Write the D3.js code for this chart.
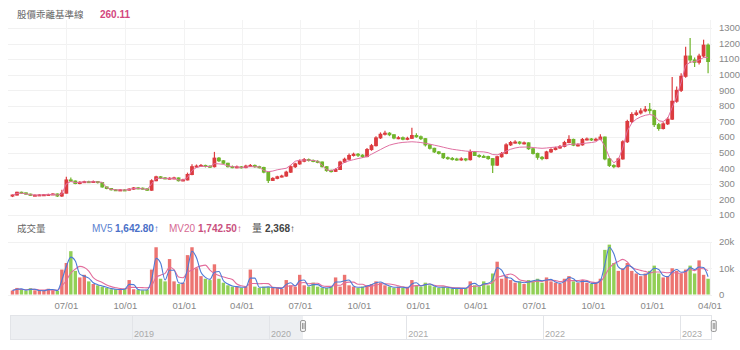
<!DOCTYPE html>
<html><head><meta charset="utf-8">
<script src="https://cdn.jsdelivr.net/npm/d3@7"></script>
<style>
body{margin:0;background:#fff;}
svg{display:block;font-family:"Liberation Sans",Arial,"Noto Sans CJK TC",sans-serif;}
</style></head>
<body><svg id="c" width="740" height="350"></svg>
<script>
// ---- data (weekly candles, Apr 2020 – Mar 2023) ----
const weekStarts = d3.timeMonday.range(new Date(2020,3,6), new Date(2023,3,1));
const openP = [222,228,246,242,234,226,227,229,230,232,
 235,222,240,325,318,302,310,314,313,315,
 308,280,270,262,259,261,260,266,274,272,
 268,259,320,345,338,336,336,338,320,325,
 360,410,414,418,413,410,465,448,432,410,
 409,409,404,414,418,410,405,375,322,335,
 345,350,375,410,428,445,456,450,444,440,
 410,385,380,392,440,458,482,490,484,475,
 520,545,595,618,625,615,594,596,586,592,
 610,602,590,550,528,505,495,468,463,459,
 456,460,455,505,482,476,475,462,420,474,
 495,550,565,568,560,563,525,495,470,462,
 505,520,530,540,565,585,548,550,585,588,
 582,586,600,460,418,410,460,570,700,745,
 755,768,778,770,680,655,685,715,830,900,
 990,1120,1095,1080,1120,1190];
const closeP = [228,246,242,234,226,227,229,230,232,235,
 222,240,325,318,302,310,314,313,315,308,
 280,270,262,259,261,260,266,274,272,268,
 259,320,345,338,336,336,338,320,325,360,
 410,414,418,413,410,465,448,432,410,409,
 409,404,414,418,410,405,375,322,335,345,
 350,375,410,428,445,456,450,444,440,410,
 385,380,392,440,458,482,490,484,475,520,
 545,595,618,625,615,594,596,586,592,610,
 602,590,550,528,505,495,468,463,459,456,
 460,455,505,482,476,475,462,420,474,495,
 550,565,568,560,563,525,495,470,462,505,
 520,530,540,565,585,548,550,585,588,582,
 586,600,460,418,410,460,570,700,745,755,
 768,778,770,680,655,685,715,830,900,990,
 1120,1095,1080,1120,1190,1085];
const highP = [232,250,250,245,237,231,233,234,236,240,
 238,262,345,340,322,316,320,319,322,318,
 310,283,273,266,266,266,272,279,279,276,
 271,330,352,350,344,342,346,341,332,372,
 425,424,428,423,420,505,472,452,435,418,
 417,414,422,428,424,416,410,378,342,352,
 358,384,420,436,456,466,462,456,452,444,
 414,392,400,448,468,494,500,498,490,530,
 556,605,630,640,632,618,606,604,602,660,
 625,610,594,556,532,510,498,476,472,468,
 470,466,520,510,490,486,480,466,480,505,
 560,575,580,574,572,566,530,500,478,512,
 528,538,550,576,612,590,560,594,598,594,
 596,618,604,465,425,468,580,712,760,772,
 785,800,818,775,690,695,728,985,925,1010,
 1180,1236,1110,1135,1225,1200];
const lowP = [215,225,238,230,222,222,224,225,227,229,
 216,215,238,312,298,298,305,308,308,302,
 275,265,258,254,255,255,257,262,266,264,
 254,256,316,332,330,330,330,315,316,322,
 355,402,408,405,402,405,440,425,405,400,
 400,398,400,408,404,398,368,305,318,330,
 340,345,370,402,422,438,444,438,432,405,
 378,372,376,388,434,452,475,472,466,470,
 512,540,588,610,606,586,586,580,580,588,
 595,582,540,520,498,488,460,455,450,448,
 448,445,450,478,468,466,455,370,415,468,
 490,542,558,552,552,518,488,455,452,458,
 498,515,525,534,560,542,540,545,578,575,
 576,580,452,408,400,405,455,562,690,735,
 745,760,750,665,640,648,678,710,820,890,
 980,1075,1050,1065,1110,1010];
const baseLine = [228,238,240,236,230,228,228,229,231,232,
 228,235,300,315,308,310,312,312,313,312,
 310,275,265,261,261,260,264,270,271,268,
 262,300,335,336,335,335,335,325,324,340,
 385,405,412,412,410,430,428,425,415,410,
 408,405,408,410,410,408,385,378,382,390,
 395,400,420,445,452,453,452,450,445,420,
 390,385,395,415,440,448,455,462,468,475,
 490,505,520,535,548,556,562,566,568,570,
 568,565,560,555,548,542,535,528,522,518,
 514,510,508,507,506,505,500,488,486,495,
 510,522,530,535,536,536,533,530,528,530,
 533,536,538,545,552,555,555,558,562,565,
 570,590,540,470,435,455,530,640,690,715,
 730,740,745,738,705,700,720,790,860,950,
 1060,1080,1085,1095,1110,1110];
const volume = [1500,2500,1800,1500,2400,1600,1400,1500,2200,1600,
 1400,9500,12000,16500,9000,6500,7500,5000,4000,3500,
 3000,2500,2000,2000,1800,2200,5500,2000,1800,1600,
 1800,9500,18000,6000,5000,13500,5000,4000,4500,15000,
 18000,10000,7000,6000,5500,11500,6000,4500,3500,3000,
 3000,2500,3000,9500,3000,2500,3000,2800,2500,2500,
 2200,5500,3500,3000,7500,3500,3000,4500,3000,2500,
 2500,3000,6500,3000,7500,3500,3000,2500,3000,3500,
 4000,5000,4500,3500,3000,2500,3000,2500,2500,5500,
 3500,3000,4500,3500,3000,2500,3000,2500,2200,2500,
 2200,2500,5000,3500,3000,5000,3500,8000,12500,6000,
 7000,5500,4500,5000,4000,5500,5000,6000,4500,6500,
 5000,4500,4000,6000,7000,5000,4500,5500,4500,4000,
 4500,6000,17000,19000,12000,9000,10000,12000,9000,8000,
 7000,8000,9000,11000,8000,6500,7000,10000,9000,8000,
 9500,11000,8000,13000,7500,6000];
const priceTicks = [100,200,300,400,500,600,700,800,900,1000,1100,1200,1300];
const volTicks = [0,10000,20000];
const volTickLabels = ["0","10k","20k"];
const navYears = ["2019","2020","2021","2022","2023"];
const titleText = "股價乖離基準線", titleValue = "260.11";
const volTitle = "成交量";
const mv5Label = "MV5", mv5Value = "1,642.80↑";
const mv20Label = "MV20", mv20Value = "1,742.50↑";
const qtyLabel = "量", qtyValue = "2,368↑";
const mvShortWin = 2, mvLongWin = 5;

// ---- build ----
const rows = weekStarts.map((d,i)=>({date:d3.timeDay.offset(d,2),o:openP[i],h:highP[i],l:lowP[i],c:closeP[i],b:baseLine[i],v:volume[i]}));
function mavg(arr,n){return arr.map((_,i)=>{const s=arr.slice(Math.max(0,i-n+1),i+1);return d3.mean(s);});}
const mvS = mavg(volume,mvShortWin), mvL = mavg(volume,mvLongWin);

const svg = d3.select("#c");
const x = d3.scaleTime().domain([new Date(2020,3,1), new Date(2023,3,1)]).range([8,710]);
const yP = d3.scaleLinear().domain([100,1300]).range([215,28]);
const yV = d3.scaleLinear().domain([0,20000]).range([294.5,242]);
const UP="#dc3b3f", DOWN="#70b52c";

const xTicks = d3.timeMonth.every(3).range(new Date(2020,6,1), new Date(2023,3,2));

// grids
const g = svg.append("g");
g.selectAll(".hp").data(priceTicks).join("line").attr("x1",8).attr("x2",712)
 .attr("y1",d=>Math.round(yP(d))+0.5).attr("y2",d=>Math.round(yP(d))+0.5).attr("stroke","#f1f1f1");
g.selectAll(".hv").data(volTicks).join("line").attr("x1",8).attr("x2",712)
 .attr("y1",d=>Math.round(yV(d))+0.5).attr("y2",d=>Math.round(yV(d))+0.5).attr("stroke","#f1f1f1");
g.selectAll(".vp").data(xTicks).join("line").attr("x1",d=>Math.round(x(d))+0.5).attr("x2",d=>Math.round(x(d))+0.5)
 .attr("y1",20).attr("y2",215).attr("stroke","#f3f3f3");
g.selectAll(".vv").data(xTicks).join("line").attr("x1",d=>Math.round(x(d))+0.5).attr("x2",d=>Math.round(x(d))+0.5)
 .attr("y1",242).attr("y2",295).attr("stroke","#f3f3f3");

// right axes
svg.append("g").selectAll("text").data(priceTicks).join("text")
 .attr("x",719).attr("y",d=>yP(d)).attr("dy","0.35em").attr("font-size",9.5).attr("fill","#888").text(d=>d);
svg.append("g").selectAll("text").data(volTicks).join("text")
 .attr("x",719).attr("y",d=>yV(d)).attr("dy","0.35em").attr("font-size",9.5).attr("fill","#888").text((d,i)=>volTickLabels[i]);

// x axis labels
svg.append("g").selectAll("text").data(xTicks).join("text")
 .attr("x",d=>x(d)).attr("y",306).attr("dy","0.35em").attr("text-anchor","middle")
 .attr("font-size",9.5).attr("fill","#888").text(d3.timeFormat("%m/%d"));

// candles
const cg = svg.append("g");
cg.selectAll("line").data(rows).join("line")
 .attr("x1",d=>x(d.date)).attr("x2",d=>x(d.date)).attr("y1",d=>yP(d.h)).attr("y2",d=>yP(d.l))
 .attr("stroke",d=>d.c>=d.o?UP:DOWN).attr("stroke-width",1.2);
cg.selectAll("rect").data(rows).join("rect")
 .attr("x",d=>x(d.date)-1.9).attr("width",3.8)
 .attr("y",d=>yP(Math.max(d.o,d.c))-0.5).attr("height",d=>Math.max(2,Math.abs(yP(d.o)-yP(d.c))+1))
 .attr("fill",d=>d.c>=d.o?UP:DOWN);
// baseline
svg.append("path").datum(rows).attr("fill","none").attr("stroke","#e070a2").attr("stroke-width",1)
 .attr("d",d3.line().x(d=>x(d.date)).y(d=>yP(d.b)));

// volume bars
svg.append("g").selectAll("rect").data(rows).join("rect")
 .attr("x",d=>x(d.date)-1.7).attr("width",3.4)
 .attr("y",d=>yV(d.v)).attr("height",d=>yV(0)-yV(d.v))
 .attr("fill",d=>d.c>=d.o?"#ec7471":"#92cf56");
svg.append("path").datum(rows).attr("fill","none").attr("stroke","#e36d9c").attr("stroke-width",1.1)
 .attr("d",d3.line().curve(d3.curveMonotoneX).x(d=>x(d.date)).y((d,i)=>yV(mvL[i])));
svg.append("path").datum(rows).attr("fill","none").attr("stroke","#4d7ad6").attr("stroke-width",1.1)
 .attr("d",d3.line().curve(d3.curveMonotoneX).x(d=>x(d.date)).y((d,i)=>yV(mvS[i])));

// titles
svg.append("text").attr("x",17).attr("y",17.5).attr("font-size",9.5).attr("fill","#666")
 .attr("font-family","'Noto Sans CJK TC',sans-serif").text(titleText);
svg.append("text").attr("x",100).attr("y",17.5).attr("font-size",10).attr("font-weight","bold").attr("fill","#d3487e").text(titleValue);

svg.append("text").attr("x",17).attr("y",232).attr("font-size",9.5).attr("fill","#666").attr("font-family","'Noto Sans CJK TC',sans-serif").text(volTitle);
const lg = svg.append("text").attr("y",232).attr("font-size",10);
lg.append("tspan").attr("x",92).attr("fill","#5a7fd0").text(mv5Label);
lg.append("tspan").attr("x",115).attr("fill","#4a70c8").attr("font-weight","bold").text(mv5Value);
lg.append("tspan").attr("x",169).attr("fill","#d66a93").text(mv20Label);
lg.append("tspan").attr("x",198).attr("fill","#c9507e").attr("font-weight","bold").text(mv20Value);
lg.append("tspan").attr("x",252).attr("fill","#555").attr("font-family","'Noto Sans CJK TC',sans-serif").text(qtyLabel);
lg.append("tspan").attr("x",265).attr("fill","#444").attr("font-weight","bold").text(qtyValue);

// navigator
const xn = d3.scaleTime().domain([new Date(2019,0,1), new Date(2023,0,1)]).range([132,680]);
const nav = svg.append("g");
nav.append("rect").attr("x",10).attr("y",315).attr("width",xn(new Date(2020,3,1))-10).attr("height",25).attr("fill","#edeff2");
nav.append("rect").attr("x",10.5).attr("y",315.5).attr("width",701).attr("height",24).attr("fill","none").attr("stroke","#e2e4e8");
const yearDates = navYears.map(s=>new Date(+s,0,1));
nav.selectAll(".yl").data(yearDates).join("line").attr("x1",d=>Math.round(xn(d))+0.5).attr("x2",d=>Math.round(xn(d))+0.5)
 .attr("y1",315).attr("y2",340).attr("stroke","#e2e4e8");
nav.selectAll(".yt").data(yearDates).join("text").attr("x",d=>xn(d)+2).attr("y",337).attr("font-size",9).attr("fill","#aaa")
 .text((d,i)=>navYears[i]);
[new Date(2020,3,1), new Date(2023,3,1)].forEach(d=>{
  const hx = xn(d);
  nav.append("rect").attr("x",hx-2.5).attr("y",320.5).attr("width",5).attr("height",11).attr("rx",1.5)
   .attr("fill","#f4f4f4").attr("stroke","#999");
  nav.append("line").attr("x1",hx-0.5).attr("x2",hx-0.5).attr("y1",323).attr("y2",329).attr("stroke","#999");
  nav.append("line").attr("x1",hx+1).attr("x2",hx+1).attr("y1",323).attr("y2",329).attr("stroke","#999");
});
</script>
</body></html>
